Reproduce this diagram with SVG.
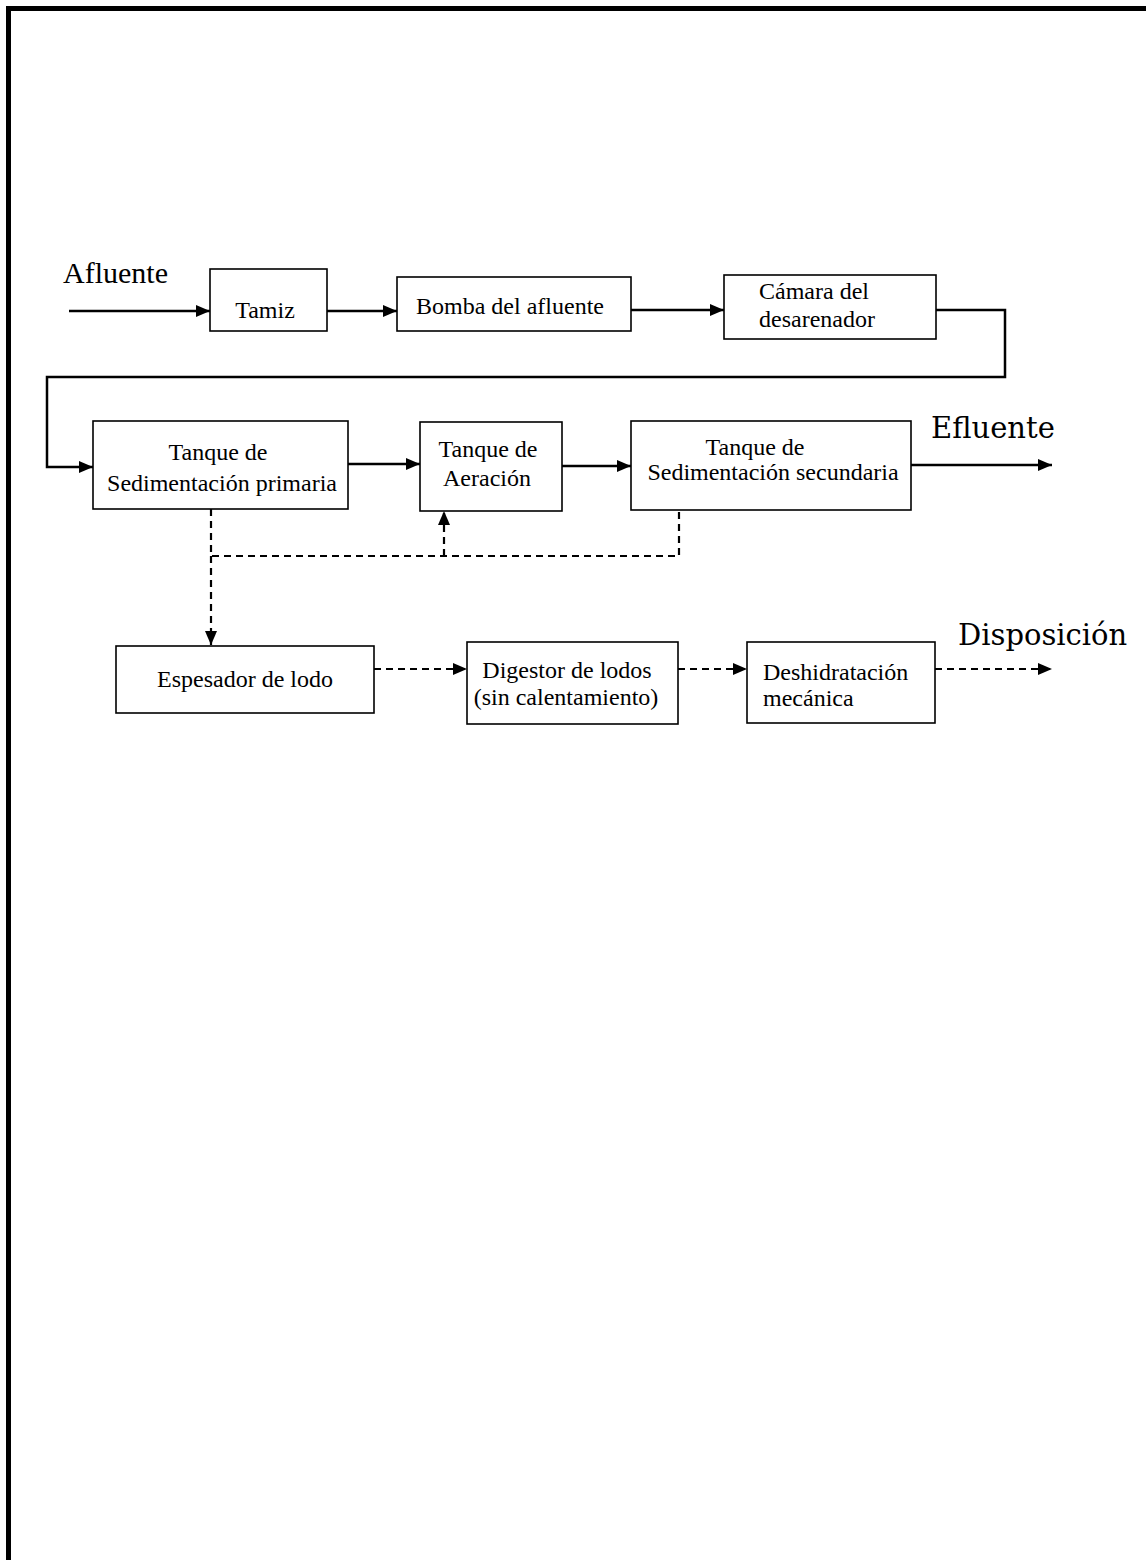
<svg xmlns="http://www.w3.org/2000/svg" width="1146" height="1560" viewBox="0 0 1146 1560">
<style>
.box{fill:#fff;stroke:#000;stroke-width:1.6}
.t{font-family:"Liberation Serif","Times New Roman",serif;font-size:24px;fill:#000}
.big{font-family:"DejaVu Serif",serif;font-size:29px;fill:#000}
.afl{font-family:"Liberation Serif","Times New Roman",serif;font-size:30px;fill:#000}
.c{text-anchor:middle}
.ln{fill:none;stroke:#000;stroke-width:2.5}
.ds{fill:none;stroke:#000;stroke-width:2.2;stroke-dasharray:7 5}
</style>
<defs>
<marker id="ah" viewBox="0 0 14 12" refX="14" refY="6" markerWidth="14" markerHeight="12" markerUnits="userSpaceOnUse" orient="auto">
<path d="M0,0 L14,6 L0,12 z" fill="#000"/>
</marker>
</defs>
<rect width="1146" height="1560" fill="#fff"/>
<path d="M8.5,1560 V8.5 H1146" fill="none" stroke="#000" stroke-width="5"/>

<text class="afl" x="63" y="283">Afluente</text>
<text class="big" x="931" y="438">Efluente</text>
<text class="big" x="958" y="645">Disposición</text>

<g id="connectors">
<path class="ln" d="M69,311 H210" marker-end="url(#ah)"/>
<path class="ln" d="M327,311 H397" marker-end="url(#ah)"/>
<path class="ln" d="M631,310 H724" marker-end="url(#ah)"/>
<path class="ln" d="M936,310 H1005 V377 H47 V467 H93" marker-end="url(#ah)"/>
<path class="ln" d="M348,464 H420" marker-end="url(#ah)"/>
<path class="ln" d="M562,466 H631" marker-end="url(#ah)"/>
<path class="ln" d="M911,465 H1052" marker-end="url(#ah)"/>
<path class="ds" d="M211,509 V556 H679 V510"/>
<path class="ds" d="M444,556 V511" marker-end="url(#ah)"/>
<path class="ds" d="M211,556 V645" marker-end="url(#ah)"/>
<path class="ds" d="M374,669 H467" marker-end="url(#ah)"/>
<path class="ds" d="M678,669 H747" marker-end="url(#ah)"/>
<path class="ds" d="M935,669 H1052" marker-end="url(#ah)"/>
</g>

<g id="tamiz">
<rect class="box" x="210" y="269" width="117" height="62"/>
<text class="t c" x="265" y="318">Tamiz</text>
</g>
<g id="bomba">
<rect class="box" x="397" y="277" width="234" height="54"/>
<text class="t c" x="510" y="314">Bomba del afluente</text>
</g>
<g id="camara">
<rect class="box" x="724" y="275" width="212" height="64"/>
<text class="t" x="759" y="299">Cámara del</text>
<text class="t" x="759" y="327">desarenador</text>
</g>
<g id="primaria">
<rect class="box" x="93" y="421" width="255" height="88"/>
<text class="t c" x="218" y="460">Tanque de</text>
<text class="t c" x="222" y="491">Sedimentación primaria</text>
</g>
<g id="aeracion">
<rect class="box" x="420" y="422" width="142" height="89"/>
<text class="t c" x="488" y="457">Tanque de</text>
<text class="t c" x="487" y="486">Aeración</text>
</g>
<g id="secundaria">
<rect class="box" x="631" y="421" width="280" height="89"/>
<text class="t c" x="755" y="455">Tanque de</text>
<text class="t c" x="773" y="480">Sedimentación secundaria</text>
</g>
<g id="espesador">
<rect class="box" x="116" y="646" width="258" height="67"/>
<text class="t c" x="245" y="687">Espesador de lodo</text>
</g>
<g id="digestor">
<rect class="box" x="467" y="642" width="211" height="82"/>
<text class="t c" x="567" y="678">Digestor de lodos</text>
<text class="t c" x="566" y="705">(sin calentamiento)</text>
</g>
<g id="deshidratacion">
<rect class="box" x="747" y="642" width="188" height="81"/>
<text class="t" x="763" y="680">Deshidratación</text>
<text class="t" x="763" y="706">mecánica</text>
</g>
</svg>
